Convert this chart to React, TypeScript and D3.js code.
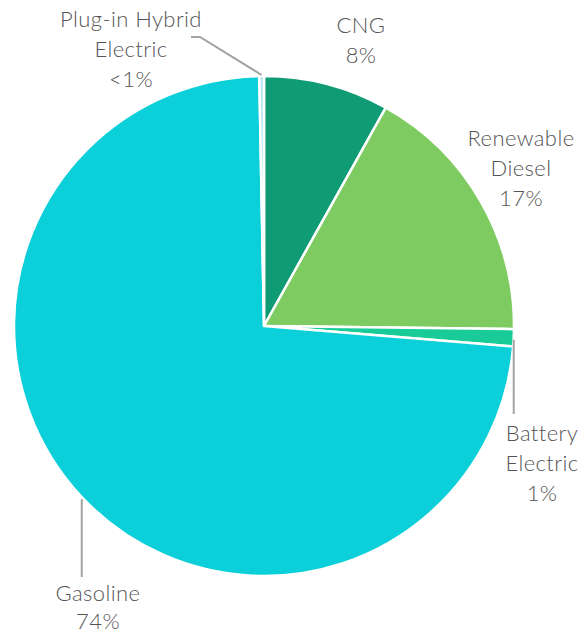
import React from "react";
import * as d3 from "d3";

const categories = ["CNG", "Renewable Diesel", "Battery Electric", "Gasoline", "Plug-in Hybrid Electric"];
const values = [8.1, 17.1, 1.1, 73.4, 0.3];
const valueLabels = ["8%", "17%", "1%", "74%", "<1%"];
const nameLines = [["CNG"], ["Renewable", "Diesel"], ["Battery", "Electric"], ["Gasoline"], ["Plug-in Hybrid", "Electric"]];
const colors = ["#0f9b74", "#7ecb62", "#19cc97", "#0bcfd9", "#b3e6f1"];

const W = 587, H = 634;
const cx = 264, cy = 326, R = 250;

const labelLayout = [
  { x: 361, y: 33, lineH: 30, leader: null },
  { x: 521, y: 146, lineH: 30, leader: null },
  { x: 542, y: 441, lineH: 30, leader: { kind: "down", toY: 414 } },
  { x: 98, y: 601, lineH: 28, leader: { kind: "down", toY: 577 } },
  { x: 131, y: 27, lineH: 30, leader: { kind: "elbow", toX: 191, elbowX: 200, toY: 37 } },
];

export default function App() {
  const pie = d3.pie<number>().value((d) => d).sort(null);
  const arcs = pie(values);
  const arcGen = d3.arc<d3.PieArcDatum<number>>().innerRadius(0).outerRadius(R);

  return (
    <svg width={W} height={H} style={{ position: "absolute", left: 0, top: 0, background: "#fff" }}>
      <g transform={`translate(${cx},${cy})`}>
        {arcs.map((a, i) => (
          <path key={i} d={arcGen(a) || ""} fill={colors[i]} stroke="#fff" strokeWidth={2.5} strokeLinejoin="round">
            <title>{categories[i]}</title>
          </path>
        ))}
      </g>
      {arcs.map((a, i) => {
        const L = labelLayout[i];
        const mid = (a.startAngle + a.endAngle) / 2;
        const px = cx + R * Math.sin(mid);
        const py = cy - R * Math.cos(mid);
        let leader = null;
        if (L.leader) {
          if (L.leader.kind === "down") {
            leader = <line x1={px} y1={py + 2} x2={px} y2={L.leader.toY} stroke="#a3a3a3" strokeWidth={2} />;
          } else {
            leader = (
              <polyline
                points={`${px},${py - 1} ${L.leader.elbowX},${L.leader.toY} ${L.leader.toX},${L.leader.toY}`}
                fill="none" stroke="#a3a3a3" strokeWidth={2}
              />
            );
          }
        }
        const lines = [...nameLines[i], valueLabels[i]];
        return (
          <g key={"l" + i}>
            {leader}
            <text x={L.x} y={L.y} textAnchor="middle" fill="#555" fontFamily="Lato, 'Open Sans', sans-serif" fontWeight={300} fontSize={22} letterSpacing={0.4}>
              {lines.map((t, j) => (
                <tspan key={j} x={L.x} y={L.y + j * L.lineH}>{t}</tspan>
              ))}
            </text>
          </g>
        );
      })}
    </svg>
  );
}
